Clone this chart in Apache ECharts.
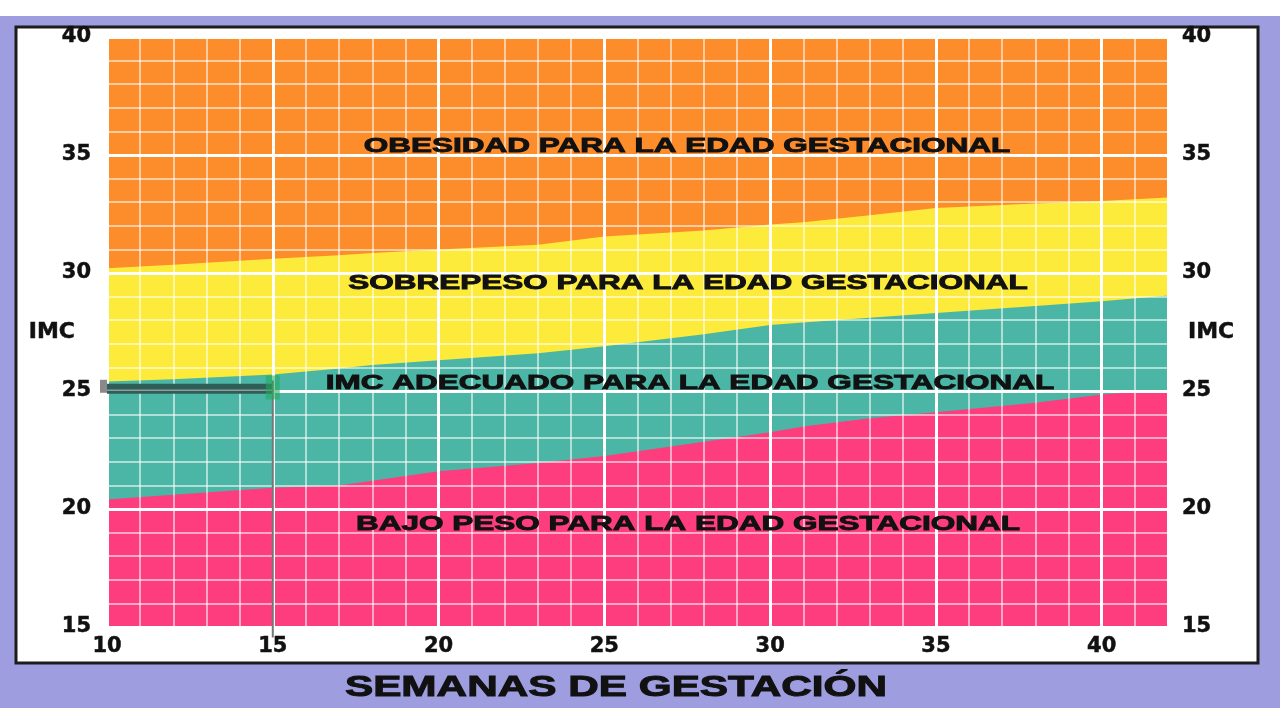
<!DOCTYPE html>
<html lang="es">
<head>
  <meta charset="utf-8">
  <title>IMC gestacional</title>
  <script src="https://cdn.jsdelivr.net/npm/echarts@6/dist/echarts.min.js"></script>
</head>
<body style="margin: 0; background: #fff">
<div id="main" style="width: 1280px; height: 720px"></div>

<script type="text/javascript">
  // semanas de gestación y límites de IMC
  var weeks = [10, 12, 15, 17, 18, 20, 23, 25, 28, 30, 31, 33, 35, 38, 40, 42];
  var lowLimit = [20.4, 20.6, 20.9, 21.0, 21.2, 21.6, 21.95, 22.25, 22.85, 23.25, 23.5, 23.85, 24.1, 24.5, 24.85, 25.05];
  var midLimit = [25.4, 25.5, 25.7, 25.95, 26.1, 26.3, 26.6, 26.9, 27.4, 27.8, 27.9, 28.1, 28.3, 28.6, 28.8, 29.05];
  var highLimit = [30.2, 30.35, 30.6, 30.75, 30.85, 31.0, 31.2, 31.55, 31.8, 32.05, 32.15, 32.45, 32.75, 32.95, 33.05, 33.2];
  var topLimit = [40, 40, 40, 40, 40, 40, 40, 40, 40, 40, 40, 40, 40, 40, 40, 40];

  var xTicks = [10, 15, 20, 25, 30, 35, 40];
  var yTicks = [15, 20, 25, 30, 35, 40];

  // punto marcado: semana 15, IMC 25
  var markWeek = 15;
  var markBmi = 25.15;

  function pairs(ys) {
    var out = [];
    for (var i = 0; i < weeks.length; i++) {
      out.push([weeks[i], ys[i]]);
    }
    return out;
  }

  function band(name, ys, color, z) {
    return {
      name: name,
      type: 'line',
      data: pairs(ys),
      symbol: 'none',
      z: z,
      lineStyle: {width: 0},
      areaStyle: {color: color, opacity: 1, origin: 'start'},
      silent: true
    };
  }

  function bandText(txt, x, y) {
    return {
      type: 'text', z: 100, x: x, y: y, scaleX: 1.5, silent: true,
      style: {
        text: txt, font: 'bold 21px "Liberation Sans", Arial, sans-serif', fill: '#111',
        stroke: '#111', lineWidth: 0.9,
        textAlign: 'center', textVerticalAlign: 'middle', verticalAlign: 'middle'
      }
    };
  }

  var tickLabel = {
    color: '#111', fontSize: 21, fontWeight: 'bold', fontFamily: 'DejaVu Sans',
    textBorderColor: '#111', textBorderWidth: 0.5
  };
  var nameStyle = {
    color: '#111', fontSize: 22, fontWeight: 'bold', fontFamily: 'DejaVu Sans',
    textBorderColor: '#111', textBorderWidth: 0.5
  };

  var mychart = echarts.init(document.getElementById('main'));

  mychart.setOption({
    animation: false,
    grid: {left: 107, right: 112, top: 37, bottom: 93},
    graphic: {
      elements: [
        {type: 'rect', z: -20, silent: true, shape: {x: 0, y: 16, width: 1280, height: 692},
          style: {fill: '#9d9ddf'}},
        {type: 'rect', z: -19, silent: true, shape: {x: 16, y: 27, width: 1242, height: 636},
          style: {fill: '#ffffff', stroke: '#1c1c1c', lineWidth: 3}},
        bandText('OBESIDAD PARA LA EDAD GESTACIONAL', 687, 146),
        bandText('SOBREPESO PARA LA EDAD GESTACIONAL', 688, 283),
        bandText('IMC ADECUADO PARA LA EDAD GESTACIONAL', 690, 383),
        bandText('BAJO PESO PARA LA EDAD GESTACIONAL', 688, 524),
        {type: 'text', z: 100, x: 616, y: 688, scaleX: 1.41, silent: true,
          style: {text: 'SEMANAS DE GESTACIÓN', font: 'bold 30px "Liberation Sans", Arial, sans-serif',
            fill: '#111', stroke: '#111', lineWidth: 1,
            textAlign: 'center', textVerticalAlign: 'middle', verticalAlign: 'middle'}}
      ]
    },
    xAxis: [
      {
        type: 'value', min: 10, max: 42, interval: 5, z: 6,
        axisLine: {show: false}, axisTick: {show: false},
        axisLabel: Object.assign({
          margin: 9,
          formatter: function (v) { return xTicks.indexOf(v) >= 0 ? String(v) : ''; }
        }, tickLabel),
        splitLine: {show: true, lineStyle: {color: '#ffffff', width: 3}}
      },
      {
        type: 'value', min: 10, max: 42, interval: 1, z: 5, position: 'bottom',
        axisLine: {show: false}, axisTick: {show: false}, axisLabel: {show: false},
        splitLine: {show: true, lineStyle: {color: 'rgba(255,255,255,0.75)', width: 1.5}}
      }
    ],
    yAxis: [
      {
        type: 'value', min: 15, max: 40, interval: 5, z: 6, position: 'left',
        name: 'IMC', nameLocation: 'middle', nameRotate: 0, nameGap: 32, nameMoveOverlap: false,
        nameTextStyle: nameStyle,
        axisLine: {show: false}, axisTick: {show: false},
        axisLabel: Object.assign({
          margin: 16,
          formatter: function (v) { return yTicks.indexOf(v) >= 0 ? String(v) : ''; }
        }, tickLabel),
        splitLine: {show: true, lineStyle: {color: '#ffffff', width: 3}},
        minorTick: {show: false, splitNumber: 5},
        minorSplitLine: {show: true, lineStyle: {color: 'rgba(255,255,255,0.75)', width: 1.5}}
      },
      {
        type: 'value', min: 15, max: 40, interval: 5, z: 6, position: 'right',
        name: 'IMC', nameLocation: 'middle', nameRotate: 0, nameGap: 20, nameMoveOverlap: false,
        nameTextStyle: nameStyle,
        axisLine: {show: false}, axisTick: {show: false},
        axisLabel: Object.assign({
          margin: 14,
          formatter: function (v) { return yTicks.indexOf(v) >= 0 ? String(v) : ''; }
        }, tickLabel),
        splitLine: {show: false}
      }
    ],
    series: [
      band('Obesidad', topLimit, '#fd8c2b', 1),
      band('Sobrepeso', highLimit, '#fdeb3b', 2),
      band('Adecuado', midLimit, '#4bb6a6', 3),
      band('Bajo peso', lowLimit, '#fe3d7f', 4),
      {
        type: 'line', symbol: 'none', z: 10, clip: false, silent: true,
        data: [[9.7, markBmi + 0.05], [10, markBmi + 0.05]],
        lineStyle: {color: '#8a8a8a', width: 13}
      },
      {
        type: 'line', symbol: 'none', z: 10, silent: true,
        data: [[10, markBmi - 0.05], [markWeek, markBmi - 0.05]],
        lineStyle: {color: '#2f5e58', width: 10}
      },
      {
        type: 'line', symbol: 'none', z: 11, silent: true,
        data: [[10, markBmi - 0.12], [markWeek, markBmi - 0.12]],
        lineStyle: {color: '#8d9e99', width: 1.5}
      },
      {
        type: 'line', symbol: 'none', z: 11, clip: false, silent: true,
        data: [[markWeek, markBmi + 0.3], [markWeek, 14.55]],
        lineStyle: {color: '#777777', width: 2}
      },
      {
        type: 'scatter', z: 12, silent: true,
        data: [[markWeek, markBmi]],
        symbol: 'rect', symbolSize: [14, 24],
        itemStyle: {color: 'rgba(34,170,90,0.7)'}
      }
    ]
  });

  window.addEventListener('resize', mychart.resize);
</script>
</body>
</html>
